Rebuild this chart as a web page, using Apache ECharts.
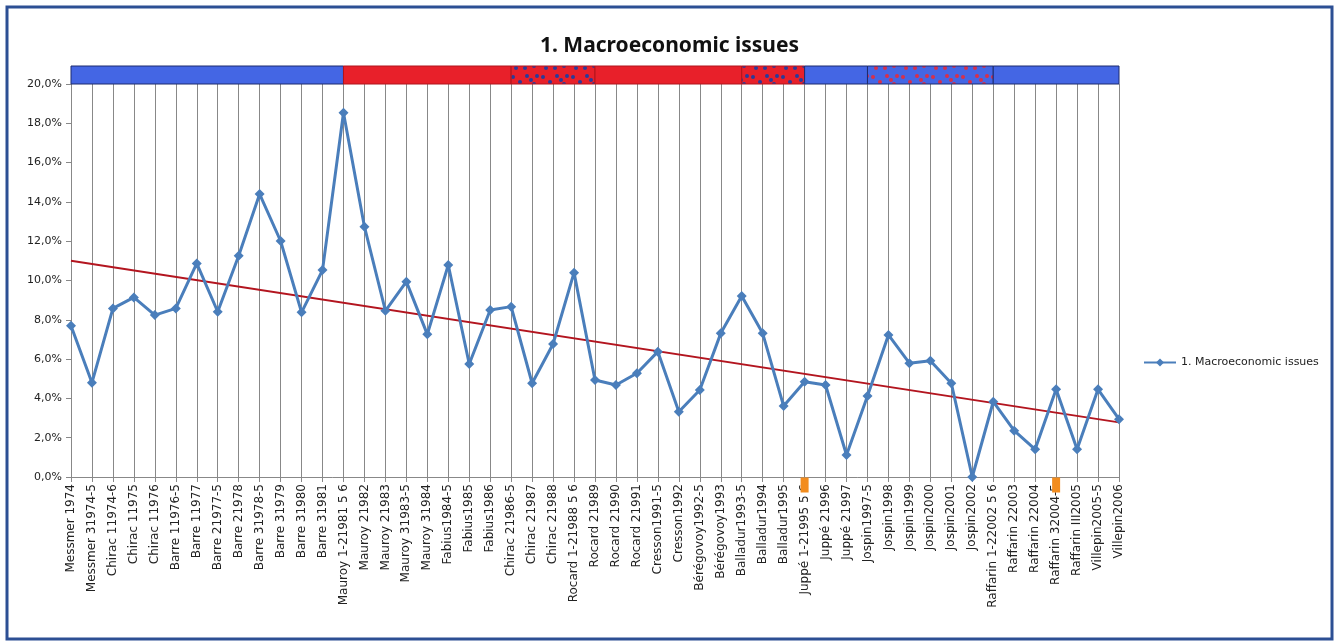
<!DOCTYPE html>
<html>
<head>
<meta charset="utf-8">
<script src="https://cdn.jsdelivr.net/npm/echarts@6/dist/echarts.min.js"></script>
<style>
html,body{margin:0;padding:0;background:#fff;}
#chart{width:1339px;height:644px;}
</style>
</head>
<body>
<div id="chart"></div>
<script>
const categories = [
  'Messmer 1974','Messmer 31974-5','Chirac 11974-6','Chirac 11975','Chirac 11976',
  'Barre 11976-5','Barre 11977','Barre 21977-5','Barre 21978','Barre 31978-5',
  'Barre 31979','Barre 31980','Barre 31981','Mauroy 1-21981 5 6','Mauroy 21982',
  'Mauroy 21983','Mauroy 31983-5','Mauroy 31984','Fabius1984-5','Fabius1985',
  'Fabius1986','Chirac 21986-5','Chirac 21987','Chirac 21988','Rocard 1-21988 5 6',
  'Rocard 21989','Rocard 21990','Rocard 21991','Cresson1991-5','Cresson1992',
  'Bérégovoy1992-5','Bérégovoy1993','Balladur1993-5','Balladur1994','Balladur1995',
  'Juppé 1-21995 5 6','Juppé 21996','Juppé 21997','Jospin1997-5','Jospin1998',
  'Jospin1999','Jospin2000','Jospin2001','Jospin2002','Raffarin 1-22002 5 6',
  'Raffarin 22003','Raffarin 22004','Raffarin 32004-5','Raffarin III2005','Villepin2005-5',
  'Villepin2006'
];
const macroValues = [
  7.70, 4.80, 8.58, 9.14, 8.24, 8.58, 10.87, 8.41, 11.26, 14.40,
  12.01, 8.38, 10.53, 18.54, 12.74, 8.46, 9.94, 7.26, 10.79, 5.75,
  8.50, 8.67, 4.77, 6.77, 10.40, 4.94, 4.68, 5.28, 6.38, 3.32,
  4.43, 7.31, 9.21, 7.31, 3.61, 4.85, 4.68, 1.12, 4.12, 7.23,
  5.79, 5.92, 4.77, 0.00, 3.83, 2.36, 1.41, 4.46, 1.41, 4.46,
  2.94
];
const seriesName = '1. Macroeconomic issues';
const trendStartValue = 11.0;
const trendEndValue = 2.78;
const yTicks = [0, 2, 4, 6, 8, 10, 12, 14, 16, 18, 20];
// government periods in the top band (category index from -> to)
const periodFrom = [0, 13, 21, 25, 32, 35, 38, 44];
const periodTo   = [13, 21, 25, 32, 35, 38, 44, 50];
const periodKind = ['right', 'left', 'leftDotted', 'left', 'leftDotted', 'right', 'rightDotted', 'right'];
// orange markers below the axis
const electionMarks = ['Juppé 1-21995 5 6', 'Raffarin 32004-5'];

function makePattern(bg, dot) {
  const c = document.createElement('canvas');
  c.width = 30; c.height = 18;
  const ctx = c.getContext('2d');
  ctx.fillStyle = bg; ctx.fillRect(0, 0, 30, 18);
  ctx.fillStyle = dot;
  const pts = [[3,5],[10,10],[17,4],[24,12],[6,14],[15,14],[27,4],[21,8]];
  pts.forEach(p => { ctx.beginPath(); ctx.arc(p[0], p[1], 2, 0, Math.PI * 2); ctx.fill(); });
  return {image: c, repeat: 'repeat'};
}
const BLUE = '#4466E4', RED = '#E8202A';
const fills = {
  right: BLUE,
  left: RED,
  leftDotted: makePattern(RED, '#2A3A9A'),
  rightDotted: makePattern(BLUE, '#D8304A')
};
const strokes = {right: '#1D2B6E', left: '#B0141C', leftDotted: '#B0141C', rightDotted: '#1D2B6E'};

const periodData = periodFrom.map((f, i) => [f, periodTo[i], i]);
const chart = echarts.init(document.getElementById('chart'), null, {renderer: 'canvas'});
const fontFam = '"DejaVu Sans", sans-serif';

chart.setOption({
  animation: false,
  backgroundColor: '#fff',
  title: {
    text: seriesName, left: 'center', top: 31,
    textStyle: {fontFamily: '"Noto Sans", sans-serif', fontWeight: 'bold', fontSize: 21, color: '#111'}
  },
  graphic: [{
    type: 'rect', shape: {x: 7, y: 7, width: 1325, height: 632},
    style: {fill: 'none', stroke: '#2C4F94', lineWidth: 3}, silent: true
  }],
  legend: {
    data: [seriesName], left: 1138, top: 352, itemWidth: 32, itemHeight: 10, itemGap: 4,
    textStyle: {fontFamily: fontFam, fontSize: 11, color: '#222'}
  },
  grid: [
    {left: 71, right: 220, top: 84, bottom: 167},
    {left: 71, right: 220, top: 66, height: 18}
  ],
  xAxis: [
    {
      type: 'category', data: categories, boundaryGap: false, gridIndex: 0,
      axisLine: {lineStyle: {color: '#888', width: 1}},
      axisTick: {show: true, length: 5, lineStyle: {color: '#888'}},
      splitLine: {show: true, lineStyle: {color: '#888', width: 1}},
      axisLabel: {interval: 0, rotate: 90, margin: 7, fontFamily: fontFam, fontSize: 12, color: '#222'}
    },
    {
      type: 'category', data: categories, boundaryGap: false, gridIndex: 1, show: false
    }
  ],
  yAxis: [
    {
      type: 'value', min: 0, max: 20, interval: 2, gridIndex: 0,
      axisLine: {show: true, lineStyle: {color: '#888'}},
      axisTick: {show: true, length: 5, lineStyle: {color: '#888'}},
      splitLine: {show: false},
      axisLabel: {
        margin: 9, fontFamily: fontFam, fontSize: 11, color: '#222',
        formatter: v => yTicks.indexOf(v) >= 0 ? v.toFixed(1).replace('.', ',') + '%' : ''
      }
    },
    {type: 'value', min: 0, max: 1, gridIndex: 1, show: false}
  ],
  series: [
    {
      name: seriesName, type: 'line', data: macroValues, xAxisIndex: 0, yAxisIndex: 0,
      symbol: 'diamond', symbolSize: 10, z: 5,
      lineStyle: {color: '#4A7EBB', width: 3},
      itemStyle: {color: '#4A7EBB'},
      markPoint: {
        symbol: 'rect', symbolSize: [8, 15], symbolOffset: [0, 8], silent: true,
        label: {show: false},
        itemStyle: {color: '#F28C1E'},
        data: electionMarks.map(n => ({coord: [n, 0]}))
      }
    },
    {
      name: 'trend', type: 'line', xAxisIndex: 0, yAxisIndex: 0,
      data: [[0, trendStartValue], [categories.length - 1, trendEndValue]],
      symbol: 'none', z: 4,
      lineStyle: {color: '#B3151F', width: 2}
    },
    {
      name: 'periods', type: 'custom', xAxisIndex: 1, yAxisIndex: 1,
      data: periodData, encode: {x: [0, 1], y: 2},
      renderItem: function (params, api) {
        const p1 = api.coord([api.value(0), 1]);
        const p2 = api.coord([api.value(1), 0]);
        const kind = periodKind[api.value(2)];
        return {
          type: 'rect',
          shape: {x: p1[0], y: p1[1], width: p2[0] - p1[0], height: p2[1] - p1[1]},
          style: {fill: fills[kind], stroke: strokes[kind], lineWidth: 1}
        };
      }
    }
  ]
});
</script>
</body>
</html>
